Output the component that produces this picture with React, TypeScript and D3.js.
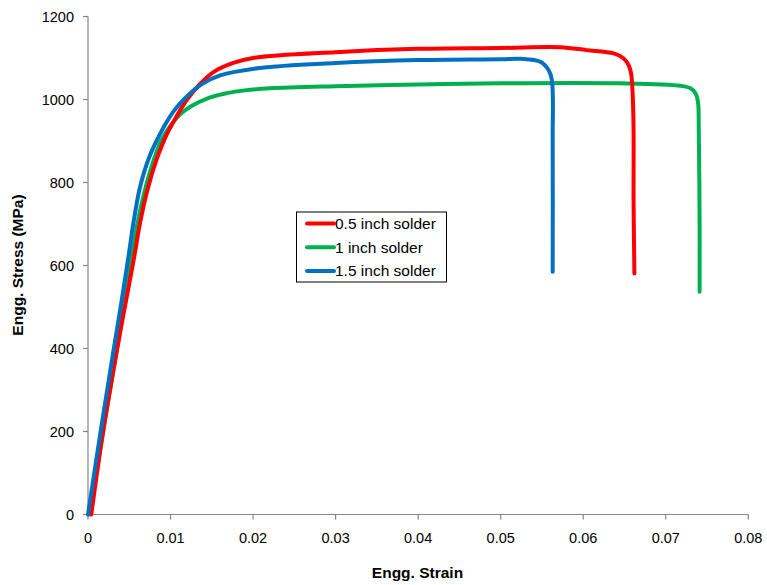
import React from 'react'
import * as d3 from 'd3'

// strain / stress points
const half = [
  [0.0004, 0], [0.0018, 196], [0.0035, 396], [0.0044, 493], [0.0056, 621],
  [0.0063, 702], [0.0072, 782], [0.0083, 855], [0.0094, 910], [0.0106, 955],
  [0.012, 1000], [0.0136, 1038], [0.0152, 1066], [0.0176, 1088], [0.02, 1100],
  [0.03, 1114], [0.04, 1122], [0.05, 1124], [0.0572, 1126], [0.0604, 1119],
  [0.0637, 1111], [0.0649, 1099], [0.0655, 1083], [0.0658, 1063], [0.066, 1007],
  [0.0661, 926], [0.0661, 758], [0.0662, 581],
]
const one = [
  [0.0002, 0], [0.0018, 196], [0.0035, 396], [0.0043, 493], [0.0053, 621],
  [0.006, 702], [0.0069, 782], [0.0081, 862], [0.0089, 902], [0.0101, 940],
  [0.0112, 965], [0.0126, 985], [0.0145, 1003], [0.0165, 1014], [0.019, 1022],
  [0.022, 1027], [0.03, 1032], [0.04, 1036], [0.05, 1039], [0.0645, 1039],
  [0.0718, 1033], [0.073, 1027], [0.0736, 1015], [0.0739, 995], [0.074, 926],
  [0.0741, 700], [0.0741, 537],
]
const oneHalf = [
  [0, 0], [0.0015, 196], [0.0031, 396], [0.0039, 493], [0.0049, 621],
  [0.0055, 702], [0.0062, 780], [0.0068, 825], [0.0075, 865], [0.0083, 900],
  [0.0093, 938], [0.0105, 975], [0.012, 1008], [0.0138, 1037], [0.016, 1058],
  [0.0208, 1076], [0.03, 1088], [0.04, 1095], [0.05, 1097], [0.0524, 1098],
  [0.0548, 1091], [0.0558, 1071], [0.0562, 1047], [0.0563, 900], [0.0563, 585],
]

const seriesNames = ['0.5 inch solder', '1 inch solder', '1.5 inch solder']
const seriesColors = ['#ff0000', '#00b050', '#0070c0']
const xTicks = [0, 0.01, 0.02, 0.03, 0.04, 0.05, 0.06, 0.07, 0.08]
const yTicks = [0, 200, 400, 600, 800, 1000, 1200]

export default function App() {
  const width = 767
  const height = 585

  const x = d3.scaleLinear().domain([0, 0.08]).range([88, 748.3])
  const y = d3.scaleLinear().domain([0, 1200]).range([514.5, 16.5])

  const line = d3
    .line<number[]>()
    .x((d) => x(d[0]))
    .y((d) => y(d[1]))
    .curve(d3.curveCatmullRom.alpha(0.5))

  const allSeries = [half, one, oneHalf]
  // green underneath, then red, blue on top
  const order = [1, 0, 2]

  const font = 'Arial, "Liberation Sans", sans-serif'
  const axisColor = '#868686'

  return (
    <svg
      width={width}
      height={height}
      style={{ position: 'absolute', left: 0, top: 0, background: '#fff' }}
      fontFamily={font}
    >
      <line x1={88} x2={88} y1={16.5} y2={514.5} stroke={axisColor} strokeWidth={1.2} />
      <line x1={88} x2={748.3} y1={514.5} y2={514.5} stroke={axisColor} strokeWidth={1.2} />
      {yTicks.map((t) => (
        <g key={'y' + t}>
          <line x1={83} x2={88} y1={y(t)} y2={y(t)} stroke={axisColor} strokeWidth={1.2} />
          <text x={74} y={y(t) + 5.2} textAnchor="end" fontSize={14.5} fill="#000">
            {t}
          </text>
        </g>
      ))}
      {xTicks.map((t) => (
        <g key={'x' + t}>
          <line x1={x(t)} x2={x(t)} y1={514.5} y2={519.5} stroke={axisColor} strokeWidth={1.2} />
          <text x={x(t)} y={543.3} textAnchor="middle" fontSize={14.5} fill="#000">
            {t}
          </text>
        </g>
      ))}

      <text
        transform="translate(23,265) rotate(-90)"
        textAnchor="middle"
        fontSize={15.5}
        fontWeight="bold"
      >
        Engg. Stress (MPa)
      </text>
      <text x={417.5} y={578} textAnchor="middle" fontSize={15.5} fontWeight="bold">
        Engg. Strain
      </text>

      {order.map((i) => (
        <path
          key={i}
          d={line(allSeries[i]) || ''}
          fill="none"
          stroke={seriesColors[i]}
          strokeWidth={4}
          strokeLinejoin="round"
          strokeLinecap="round"
        />
      ))}

      <rect x={296.5} y={212} width={150} height={70} fill="#fff" stroke="#000" strokeWidth={1} />
      {seriesNames.map((n, i) => (
        <g key={n}>
          <line
            x1={307}
            x2={334}
            y1={223.5 + i * 23.7}
            y2={223.5 + i * 23.7}
            stroke={seriesColors[i]}
            strokeWidth={4}
            strokeLinecap="round"
          />
          <text x={335} y={229 + i * 23.7} fontSize={15.5} fill="#000">
            {n}
          </text>
        </g>
      ))}
    </svg>
  )
}
